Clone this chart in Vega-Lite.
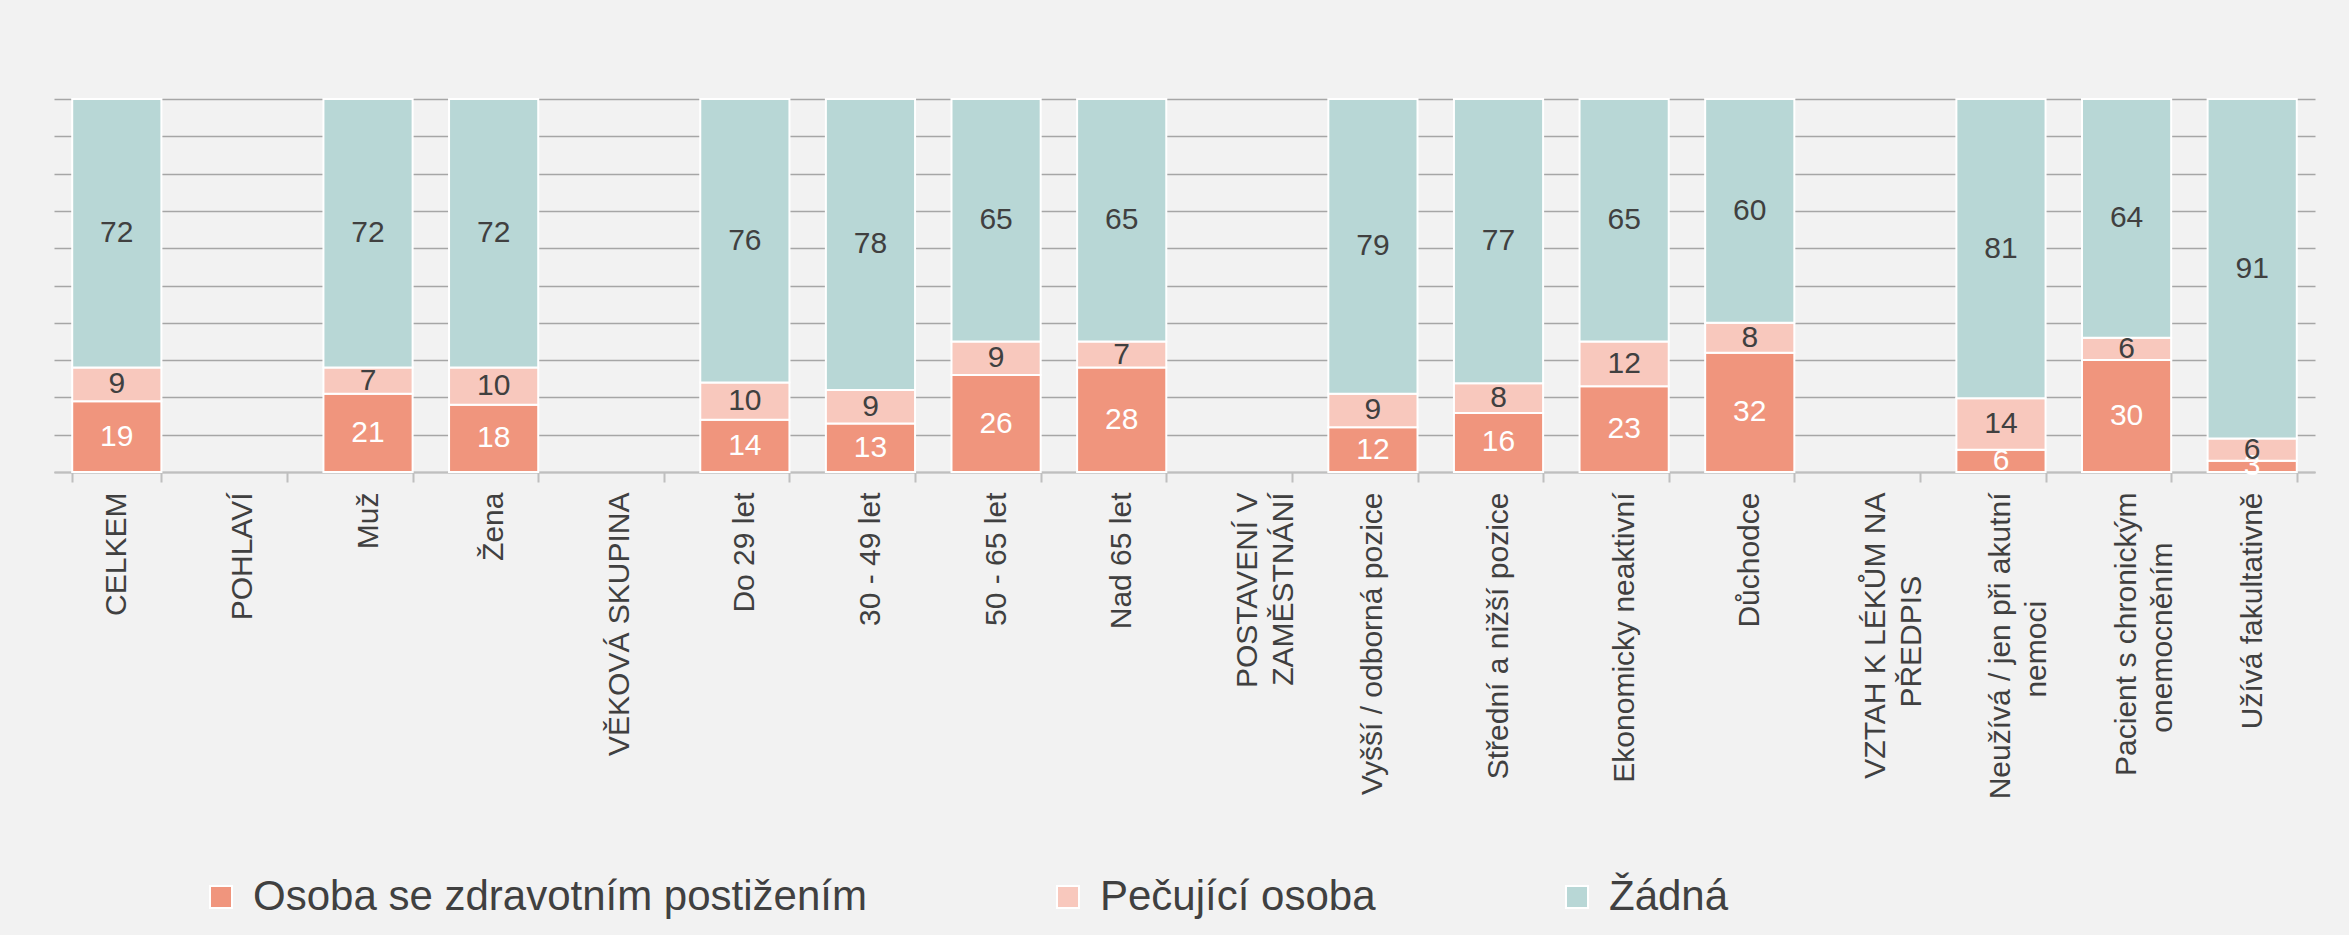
{
  "$schema": "https://vega.github.io/schema/vega-lite/v6.json",
  "autosize": "none",
  "width": 2261,
  "height": 373,
  "padding": {"left": 54, "top": 99, "right": 34, "bottom": 463},
  "background": "#F2F2F2",
  "config": {
    "view": {"stroke": null},
    "font": "Liberation Sans",
    "text": {"font": "Liberation Sans"}
  },
  "data": {
    "values": [
      {"cat": "CELKEM", "series": "Osoba se zdravotním postižením", "value": 19},
      {"cat": "CELKEM", "series": "Pečující osoba", "value": 9},
      {"cat": "CELKEM", "series": "Žádná", "value": 72},
      {"cat": "Muž", "series": "Osoba se zdravotním postižením", "value": 21},
      {"cat": "Muž", "series": "Pečující osoba", "value": 7},
      {"cat": "Muž", "series": "Žádná", "value": 72},
      {"cat": "Žena", "series": "Osoba se zdravotním postižením", "value": 18},
      {"cat": "Žena", "series": "Pečující osoba", "value": 10},
      {"cat": "Žena", "series": "Žádná", "value": 72},
      {"cat": "Do 29 let", "series": "Osoba se zdravotním postižením", "value": 14},
      {"cat": "Do 29 let", "series": "Pečující osoba", "value": 10},
      {"cat": "Do 29 let", "series": "Žádná", "value": 76},
      {"cat": "30 - 49 let", "series": "Osoba se zdravotním postižením", "value": 13},
      {"cat": "30 - 49 let", "series": "Pečující osoba", "value": 9},
      {"cat": "30 - 49 let", "series": "Žádná", "value": 78},
      {"cat": "50 - 65 let", "series": "Osoba se zdravotním postižením", "value": 26},
      {"cat": "50 - 65 let", "series": "Pečující osoba", "value": 9},
      {"cat": "50 - 65 let", "series": "Žádná", "value": 65},
      {"cat": "Nad 65 let", "series": "Osoba se zdravotním postižením", "value": 28},
      {"cat": "Nad 65 let", "series": "Pečující osoba", "value": 7},
      {"cat": "Nad 65 let", "series": "Žádná", "value": 65},
      {"cat": "Vyšší / odborná pozice", "series": "Osoba se zdravotním postižením", "value": 12},
      {"cat": "Vyšší / odborná pozice", "series": "Pečující osoba", "value": 9},
      {"cat": "Vyšší / odborná pozice", "series": "Žádná", "value": 79},
      {"cat": "Střední a nižší pozice", "series": "Osoba se zdravotním postižením", "value": 16},
      {"cat": "Střední a nižší pozice", "series": "Pečující osoba", "value": 8},
      {"cat": "Střední a nižší pozice", "series": "Žádná", "value": 77},
      {"cat": "Ekonomicky neaktivní", "series": "Osoba se zdravotním postižením", "value": 23},
      {"cat": "Ekonomicky neaktivní", "series": "Pečující osoba", "value": 12},
      {"cat": "Ekonomicky neaktivní", "series": "Žádná", "value": 65},
      {"cat": "Důchodce", "series": "Osoba se zdravotním postižením", "value": 32},
      {"cat": "Důchodce", "series": "Pečující osoba", "value": 8},
      {"cat": "Důchodce", "series": "Žádná", "value": 60},
      {"cat": "Neužívá / jen při akutní nemoci", "series": "Osoba se zdravotním postižením", "value": 6},
      {"cat": "Neužívá / jen při akutní nemoci", "series": "Pečující osoba", "value": 14},
      {"cat": "Neužívá / jen při akutní nemoci", "series": "Žádná", "value": 81},
      {"cat": "Pacient s chronickým onemocněním", "series": "Osoba se zdravotním postižením", "value": 30},
      {"cat": "Pacient s chronickým onemocněním", "series": "Pečující osoba", "value": 6},
      {"cat": "Pacient s chronickým onemocněním", "series": "Žádná", "value": 64},
      {"cat": "Užívá fakultativně", "series": "Osoba se zdravotním postižením", "value": 3},
      {"cat": "Užívá fakultativně", "series": "Pečující osoba", "value": 6},
      {"cat": "Užívá fakultativně", "series": "Žádná", "value": 91}
    ]
  },
  "encoding": {
    "x": {
      "field": "cat",
      "type": "nominal",
      "sort": null,
      "scale": {
        "domain": ["CELKEM", "POHLAVÍ", "Muž", "Žena", "VĚKOVÁ SKUPINA", "Do 29 let", "30 - 49 let", "50 - 65 let", "Nad 65 let", "POSTAVENÍ V ZAMĚSTNÁNÍ", "Vyšší / odborná pozice", "Střední a nižší pozice", "Ekonomicky neaktivní", "Důchodce", "VZTAH K LÉKŮM NA PŘEDPIS", "Neužívá / jen při akutní nemoci", "Pacient s chronickým onemocněním", "Užívá fakultativně"],
        "paddingInner": 0.29,
        "paddingOuter": 0.145
      },
      "axis": {
        "title": null,
        "labelAngle": -90,
        "labelFont": "Liberation Sans",
        "labelFontSize": 30,
        "labelColor": "#404040",
        "labelPadding": 10,
        "labelLimit": 500,
        "labelLineHeight": 36,
        "labelExpr": "datum.value == 'POSTAVENÍ V ZAMĚSTNÁNÍ' ? ['POSTAVENÍ V', 'ZAMĚSTNÁNÍ'] : datum.value == 'VZTAH K LÉKŮM NA PŘEDPIS' ? ['VZTAH K LÉKŮM NA', 'PŘEDPIS\u00a0\u00a0\u00a0\u00a0\u00a0\u00a0\u00a0\u00a0\u00a0\u00a0\u200b'] : datum.value == 'Neužívá / jen při akutní nemoci' ? ['Neužívá / jen při akutní', 'nemoci\u00a0\u00a0\u00a0\u00a0\u00a0\u00a0\u00a0\u00a0\u00a0\u00a0\u00a0\u00a0\u00a0\u200b'] : datum.value == 'Pacient s chronickým onemocněním' ? ['Pacient s chronickým', 'onemocněním\u00a0\u00a0\u00a0\u00a0\u00a0\u00a0\u200b'] : datum.label",
        "domainColor": "#BFBFBF",
        "domainWidth": 2,
        "tickColor": "#BFBFBF",
        "tickWidth": 2,
        "tickSize": 10,
        "tickBand": "extent",
        "grid": false
      }
    },
    "y": {
      "field": "value",
      "type": "quantitative",
      "stack": "normalize",
      "scale": {"domain": [0, 1], "nice": false},
      "axis": {
        "title": null,
        "labels": false,
        "ticks": false,
        "domain": false,
        "grid": true,
        "gridColor": "#A6A6A6",
        "gridWidth": 1.5,
        "values": [0, 0.1, 0.2, 0.3, 0.4, 0.5, 0.6, 0.7, 0.8, 0.9, 1]
      }
    }
  },
  "layer": [
    {
      "mark": {"type": "bar", "stroke": "white", "strokeWidth": 2},
      "encoding": {
        "color": {
          "field": "series",
          "type": "nominal",
          "scale": {
            "domain": ["Osoba se zdravotním postižením", "Pečující osoba", "Žádná"],
            "range": ["#F0957D", "#F8C8BD", "#B8D7D6"]
          },
          "legend": {
            "title": null,
            "orient": "none",
            "direction": "horizontal",
            "legendX": 146,
            "legendY": 777,
            "symbolType": "square",
            "symbolSize": 484,
            "symbolStrokeColor": "white",
            "symbolStrokeWidth": 2,
            "symbolOpacity": 1,
            "labelFont": "Liberation Sans",
            "labelFontSize": 42,
            "labelColor": "#404040",
            "labelOffset": 11,
            "labelLimit": 800,
            "columnPadding": 180
          }
        },
        "order": {"field": "series", "sort": "ascending"}
      }
    },
    {
      "mark": {"type": "text", "font": "Liberation Sans", "fontSize": 30, "baseline": "middle"},
      "encoding": {
        "y": {"field": "value", "type": "quantitative", "stack": "normalize", "bandPosition": 0.5},
        "text": {"field": "value", "type": "quantitative"},
        "order": {"field": "series", "sort": "ascending"},
        "color": {
          "condition": {"test": "datum.series == 'Osoba se zdravotním postižením'", "value": "#FFFFFF"},
          "value": "#404040"
        }
      }
    }
  ]
}
